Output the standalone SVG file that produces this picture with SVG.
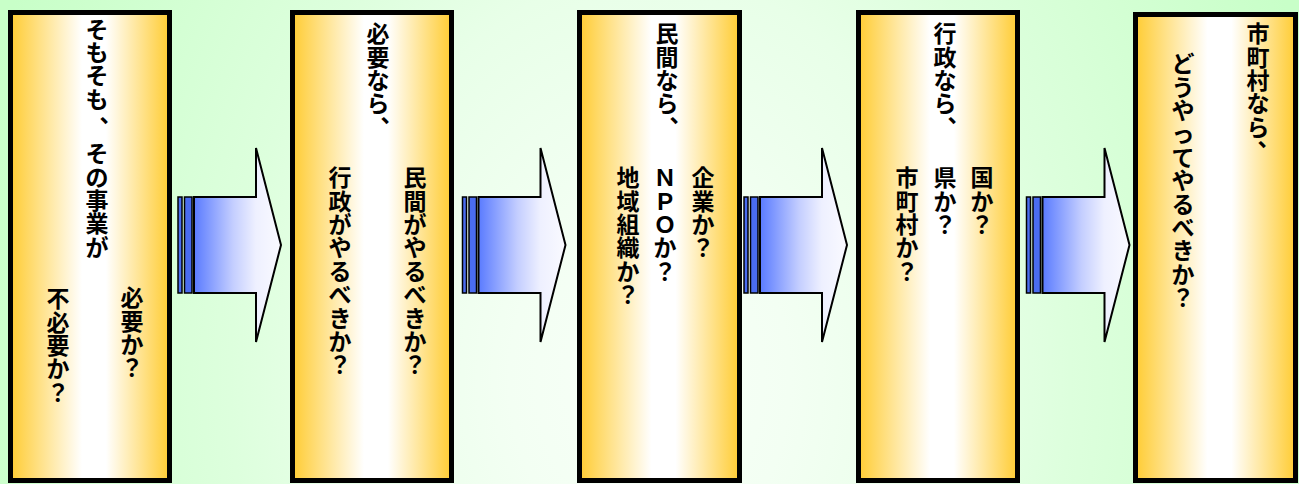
<svg xmlns="http://www.w3.org/2000/svg" width="1299" height="484" viewBox="0 0 1299 484">
<defs>
<radialGradient id="bg" gradientUnits="userSpaceOnUse" cx="650" cy="380" r="700" gradientTransform="translate(650 380) scale(1 1.2857) translate(-650 -380)">
<stop offset="0" stop-color="#f8fff8"/>
<stop offset="0.2" stop-color="#f3fff3"/>
<stop offset="0.45" stop-color="#e8ffe8"/>
<stop offset="0.6" stop-color="#ddffdd"/>
<stop offset="1" stop-color="#c8ffc8"/>
</radialGradient>
<linearGradient id="box" x1="0" y1="0" x2="1" y2="0">
<stop offset="0" stop-color="#ffcc33"/>
<stop offset="0.45" stop-color="#ffffff"/>
<stop offset="0.6" stop-color="#ffffff"/>
<stop offset="1" stop-color="#ffcc33"/>
</linearGradient>
<linearGradient id="arr" x1="0" y1="0" x2="1" y2="0">
<stop offset="0" stop-color="#5a7bff"/>
<stop offset="0.45" stop-color="#c4ceff"/>
<stop offset="0.71" stop-color="#eef0ff"/>
<stop offset="1" stop-color="#fafaff"/>
</linearGradient>
<g id="arrow">
<rect x="0" y="197" width="4" height="96" fill="#4a6cf0" stroke="#000" stroke-width="1.5"/>
<rect x="6.5" y="197" width="7.5" height="96" fill="#4a6cf0" stroke="#000" stroke-width="1.5"/>
<path d="M16,197 H78 V148 L103,245 L78,342 V293 H16 Z" fill="url(#arr)" stroke="#000" stroke-width="2" stroke-linejoin="miter"/>
</g>
</defs>
<style>
.box{fill:url(#box);stroke:#000;stroke-width:5}
.t{font-family:"Noto Sans CJK JP","Noto Sans CJK SC",sans-serif;font-size:23px;font-weight:bold;text-anchor:middle;fill:#000}
</style>
<rect x="0" y="0" width="1299" height="484" fill="url(#bg)"/>

<g id="connectors">
<use href="#arrow" x="178"/>
<use href="#arrow" x="462.5"/>
<use href="#arrow" x="744"/>
<use href="#arrow" x="1026.5"/>
</g>

<g id="node1">
<rect class="box" x="10.5" y="12.5" width="159" height="468"/>
<text class="t" x="97 97 97 97 111" y="37.6 61 84.4 107.8 122">そもそも、</text>
<text class="t" x="97 97 97 97 97" y="162.1 185.5 208.9 232.3 255.7">その事業が</text>
<text class="t" x="132 132 132 132" y="306.1 329.5 352.9 376.3">必要か？</text>
<text class="t" x="58 58 58 58 58" y="307.1 330.5 353.9 377.3 400.7">不必要か？</text>
</g>

<g id="node2">
<rect class="box" x="292.5" y="12.5" width="159" height="468"/>
<text class="t" x="378 378 378 378 392" y="42.1 65.5 88.9 112.3 122">必要なら、</text>
<text class="t" x="415 415 415 415 415 415 415 415 415" y="186.1 209.5 232.9 256.3 279.7 303.1 326.5 349.9 373.3">民間がやるべきか？</text>
<text class="t" x="340 340 340 340 340 340 340 340 340" y="186.1 209.5 232.9 256.3 279.7 303.1 326.5 349.9 373.3">行政がやるべきか？</text>
</g>

<g id="node3">
<rect class="box" x="579.5" y="12.5" width="160" height="468"/>
<text class="t" x="667 667 667 667 681" y="42.1 65.5 88.9 112.3 122">民間なら、</text>
<text class="t" x="703 703 703 703" y="186.1 209.5 232.9 256.3">企業か？</text>
<text class="t" x="665 665 665 665 665" y="186.1 209.5 232.9 256.3 279.7">ＮＰＯか？</text>
<text class="t" x="628 628 628 628 628 628" y="186.1 209.5 232.9 256.3 279.7 303.1">地域組織か？</text>
</g>

<g id="node4">
<rect class="box" x="858.5" y="12.5" width="159" height="468"/>
<text class="t" x="945 945 945 945 959" y="42.1 65.5 88.9 112.3 122">行政なら、</text>
<text class="t" x="982 982 982" y="186.1 209.5 232.9">国か？</text>
<text class="t" x="945 945 945" y="186.1 209.5 232.9">県か？</text>
<text class="t" x="907 907 907 907 907" y="186.1 209.5 232.9 256.3 279.7">市町村か？</text>
</g>

<g id="node5">
<rect class="box" x="1135.5" y="14.5" width="160" height="466"/>
<text class="t" x="1258 1258 1258 1258 1258 1269" y="42.1 65.5 88.9 112.3 135.7 146">市町村なら、</text>
<text class="t" x="1183 1183 1183 1183 1183 1183 1183 1183 1183 1183 1183" y="72.1 95.5 118.9 142.3 165.7 189.1 212.5 235.9 259.3 282.7 306.1">どうやってやるべきか？</text>
</g>
</svg>
